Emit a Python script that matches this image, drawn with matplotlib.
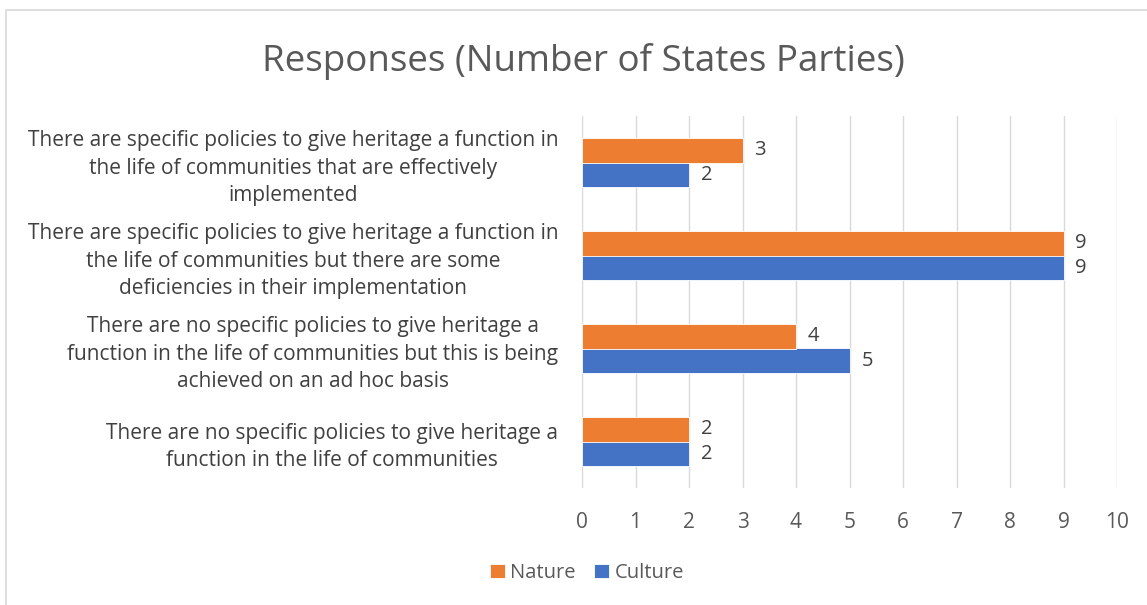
import matplotlib.pyplot as plt
import numpy as np

plt.rcParams['font.family'] = ['Open Sans', 'DejaVu Sans']

categories = [
    "There are no specific policies to give heritage a\nfunction in the life of communities",
    "There are no specific policies to give heritage a\nfunction in the life of communities but this is being\nachieved on an ad hoc basis",
    "There are specific policies to give heritage a function in\nthe life of communities but there are some\ndeficiencies in their implementation",
    "There are specific policies to give heritage a function in\nthe life of communities that are effectively\nimplemented",
]
culture = [2, 5, 9, 2]
nature = [2, 4, 9, 3]

blue = '#4472C4'
orange = '#ED7D31'
text_col = '#595959'

fig = plt.figure(figsize=(11.47, 6.05), dpi=100)
ax = fig.add_axes([582 / 1147, 1 - 488 / 605, 535 / 1147, 372 / 605])

y = np.arange(len(categories))
h = 0.26
b1 = ax.barh(y - h / 2, culture, height=h, color=blue, edgecolor='white', linewidth=0.6, label='Culture', zorder=3)
b2 = ax.barh(y + h / 2, nature, height=h, color=orange, edgecolor='white', linewidth=0.6, label='Nature', zorder=3)

for bars, vals in ((b1, culture), (b2, nature)):
    for bar, v in zip(bars, vals):
        ax.text(v + 0.22, bar.get_y() + bar.get_height() / 2, str(v),
                va='center', ha='left', fontsize=14.5, color='#404040')

ax.set_xlim(0, 10)
ax.set_ylim(-0.5, 3.5)
ax.set_xticks(range(11))
ax.set_yticks(y)
ax.set_yticklabels(categories, multialignment='center', fontsize=15, color='#404040',
                   linespacing=1.4)
ax.tick_params(axis='x', colors=text_col, labelsize=15, length=0, pad=17)
ax.tick_params(axis='y', length=0, pad=17)
ax.grid(axis='x', color='#d9d9d9', linewidth=1, zorder=0)
for s in ax.spines.values():
    s.set_visible(False)

fig.text(583 / 1147, 1 - 61 / 605, 'Responses (Number of States Parties)', ha='center', va='center',
         fontsize=26.5, color=text_col)

handles = [b2, b1]
fig.legend(handles, ['Nature', 'Culture'], loc='center', bbox_to_anchor=(587 / 1147, 1 - 573 / 605),
           ncol=2, frameon=False, fontsize=14.5, labelcolor=text_col, handlelength=0.75, handleheight=0.75,
           handletextpad=0.25, columnspacing=0.9)

frame = plt.Rectangle((6 / 1147, -0.01), 1.0, 1.01 - 10 / 605, transform=fig.transFigure,
                      fill=False, edgecolor='#d9d9d9', linewidth=1.2)
fig.patches.append(frame)

fig.savefig('out.png', dpi=100)
